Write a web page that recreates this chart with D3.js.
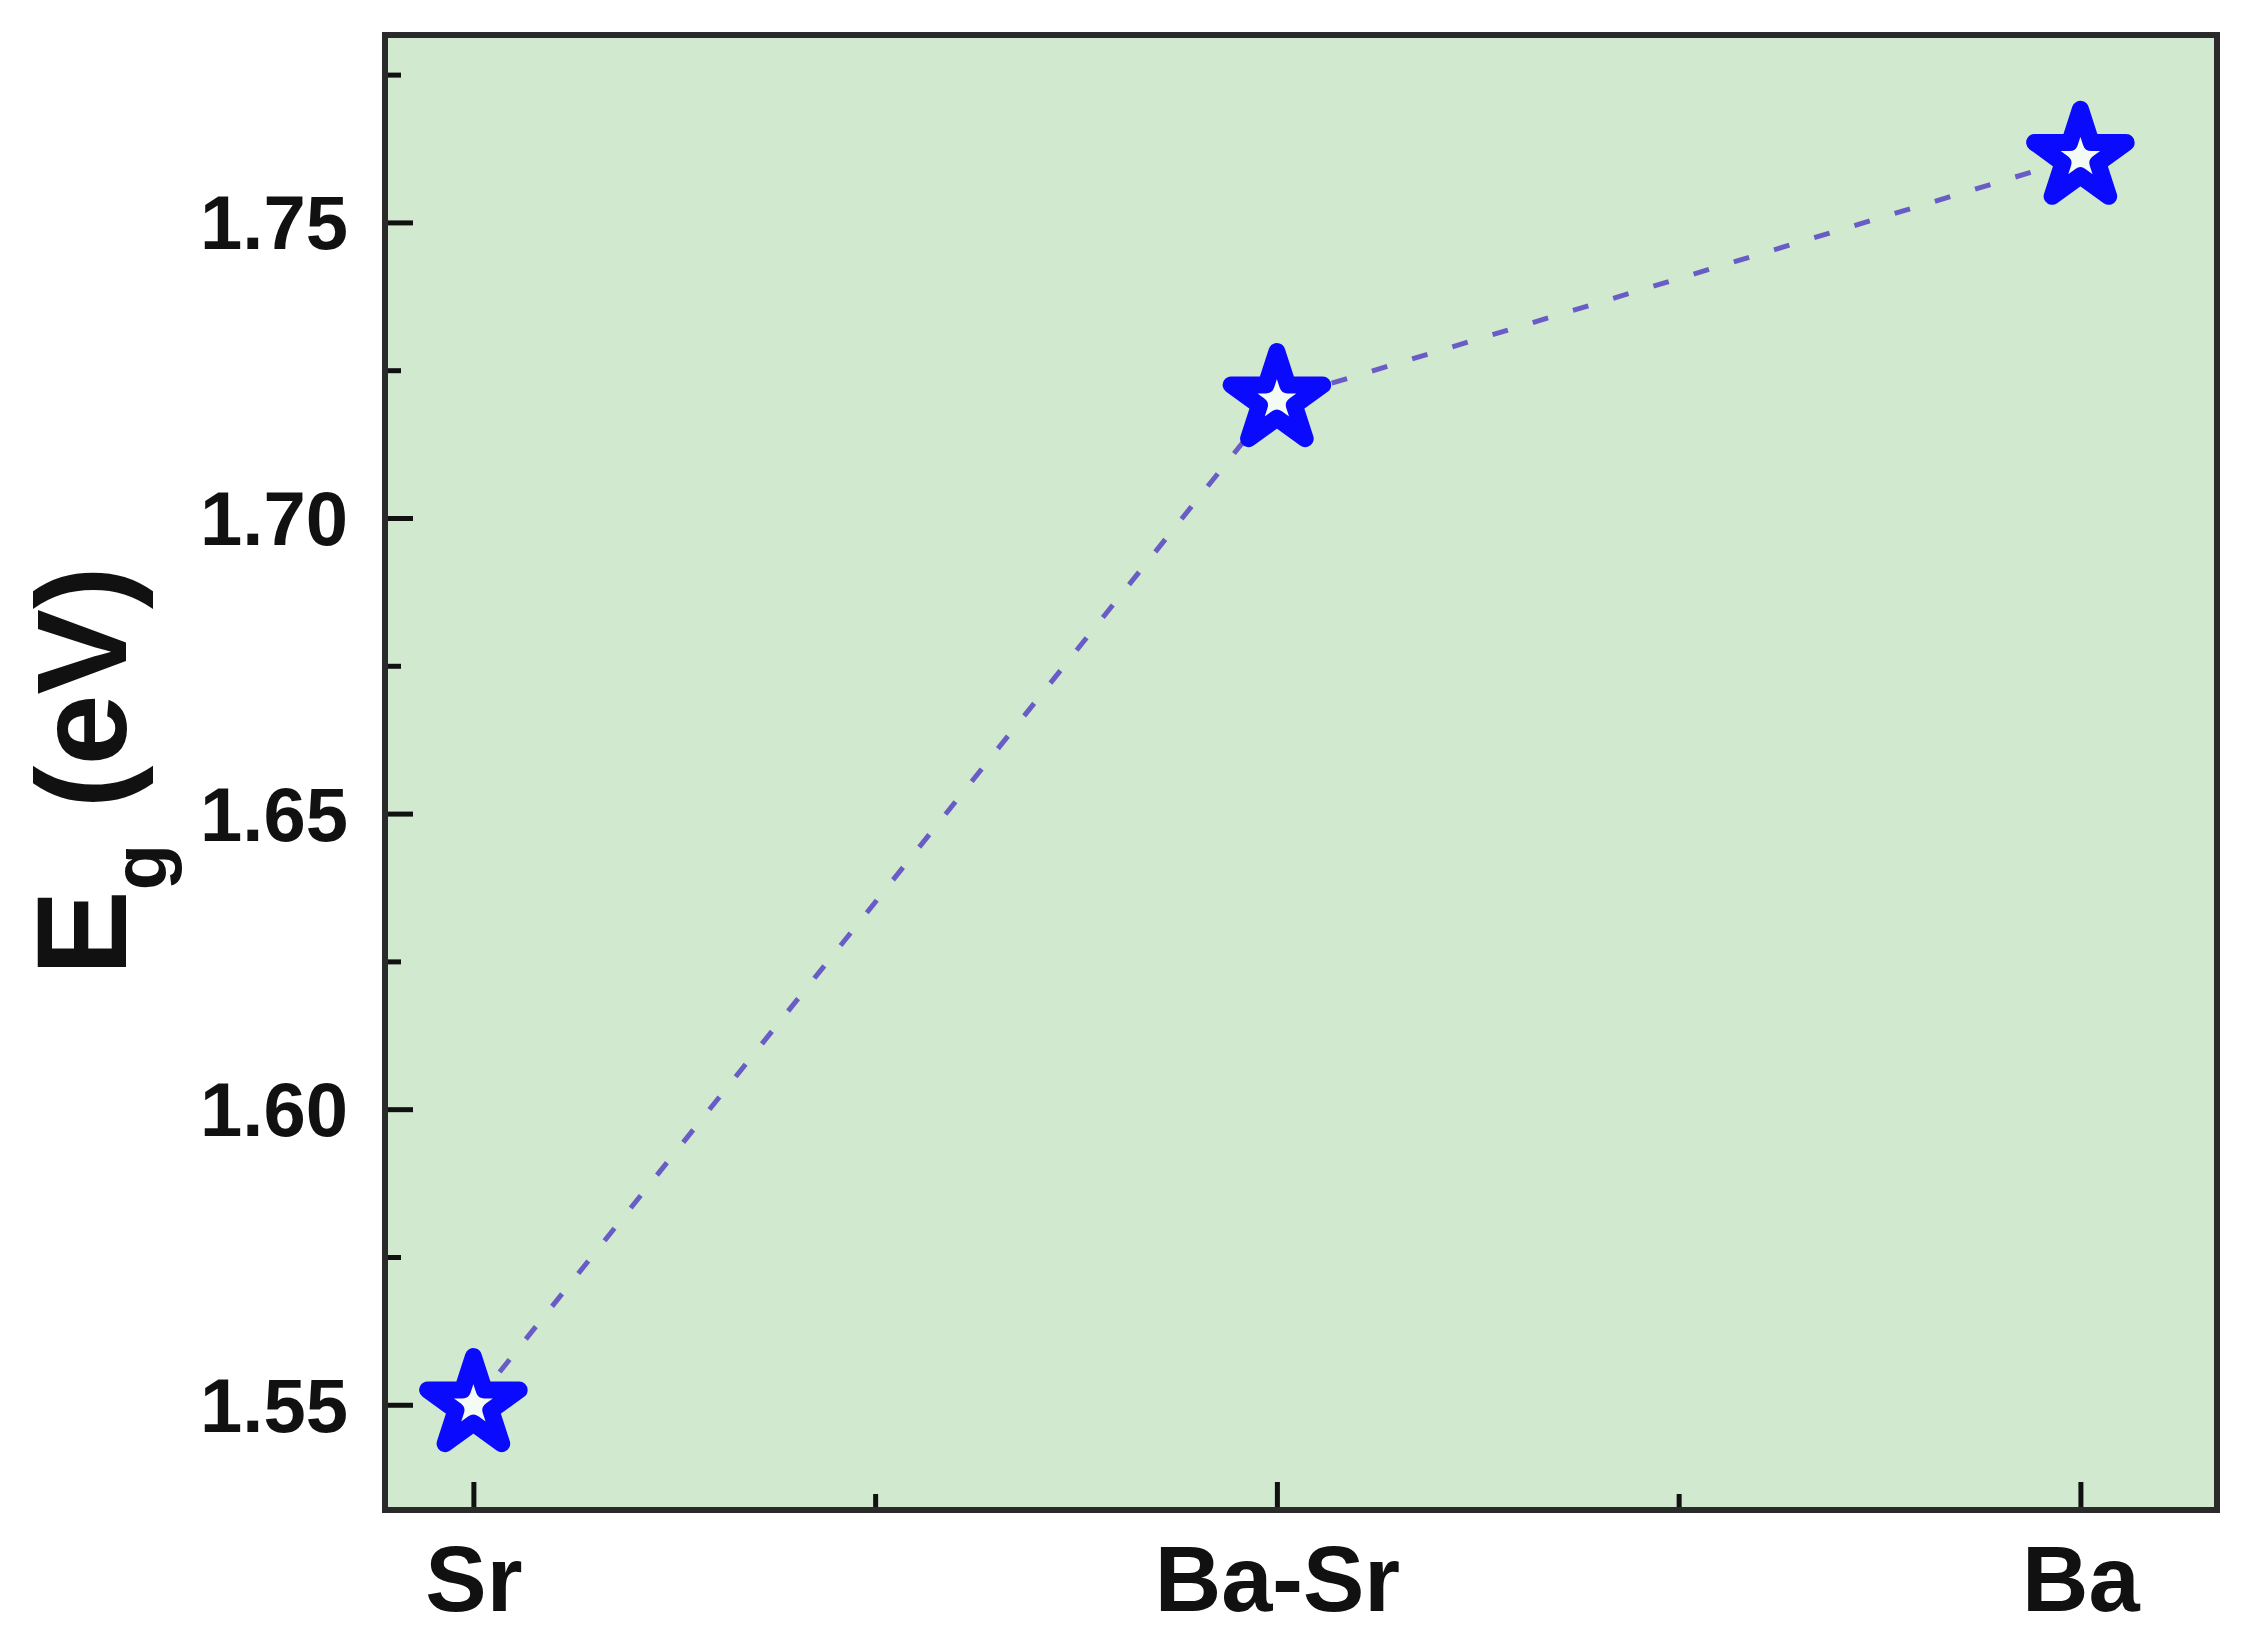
<!doctype html>
<html>
<head>
  <meta charset="utf-8">
  <title>Eg vs composition</title>
  <style>
    body { margin: 0; background: #fff; }
    svg text { font-family: Arial, "Liberation Sans", sans-serif; font-weight: bold; fill: #111; }
  </style>
</head>
<body>
  <div id="chart"></div>
  <script src="https://d3js.org/d3.v7.min.js"></script>
  <script>
    // data
    const categories = ['Sr', 'Ba-Sr', 'Ba'];
    const eg = [1.550, 1.720, 1.761];
    const yTicks = [1.55, 1.60, 1.65, 1.70, 1.75];
    const yMinor = [1.575, 1.625, 1.675, 1.725, 1.775];
    const xMinor = [0.5, 1.5];

    const W = 2250, H = 1644;
    const plotL = 385, plotR = 2217, plotT = 35, plotB = 1510;

    const svg = d3.select('#chart').append('svg')
      .attr('width', W).attr('height', H);

    const x = d3.scaleLinear().domain([-0.11, 2.17]).range([plotL, plotR]);
    const y = d3.scaleLinear().domain([1.5322, 1.7817]).range([plotB, plotT]);

    // plot background
    svg.append('rect')
      .attr('x', plotL).attr('y', plotT)
      .attr('width', plotR - plotL).attr('height', plotB - plotT)
      .attr('fill', '#d0e9cf');

    // dashed connecting line
    const pts = eg.map((v, i) => [i, v]);
    svg.append('path')
      .datum(pts)
      .attr('d', d3.line().x(d => x(d[0])).y(d => y(d[1])))
      .attr('fill', 'none')
      .attr('stroke', '#6a5cc6')
      .attr('stroke-width', 5)
      .attr('stroke-dasharray', '16,26');

    // star markers (open star, thick outline)
    svg.append('g').selectAll('path')
      .data(pts)
      .join('path')
      .attr('transform', d => `translate(${x(d[0])},${y(d[1])})`)
      .attr('d', d3.symbol(d3.symbolStar, 2600))
      .attr('fill', '#f4fbf4')
      .attr('stroke', '#0a0aff')
      .attr('stroke-width', 17)
      .attr('stroke-linejoin', 'round');

    // y axis (ticks inside)
    const yAxis = svg.append('g')
      .attr('transform', `translate(${plotL},0)`)
      .call(d3.axisLeft(y).tickValues(yTicks).tickFormat(d3.format('.2f'))
        .tickSize(-28).tickPadding(37));
    yAxis.select('.domain').remove();
    yAxis.selectAll('line').attr('stroke', '#111').attr('stroke-width', 5);
    yAxis.selectAll('text')
      .attr('font-size', 76).attr('dy', null).attr('dominant-baseline', 'central')
      .attr('fill', '#1a1a1a');

    const yAxisMinor = svg.append('g')
      .attr('transform', `translate(${plotL},0)`)
      .call(d3.axisLeft(y).tickValues(yMinor).tickFormat('').tickSize(-16));
    yAxisMinor.select('.domain').remove();
    yAxisMinor.selectAll('line').attr('stroke', '#111').attr('stroke-width', 5);

    // x axis (ticks inside)
    const xAxis = svg.append('g')
      .attr('transform', `translate(0,${plotB})`)
      .call(d3.axisBottom(x).tickValues([0, 1, 2]).tickFormat(i => categories[i])
        .tickSize(-28).tickPadding(35));
    xAxis.select('.domain').remove();
    xAxis.selectAll('line').attr('stroke', '#111').attr('stroke-width', 5);
    xAxis.selectAll('text')
      .attr('font-size', 92).attr('dy', null).attr('dominant-baseline', 'hanging')
      .attr('fill', '#111');

    const xAxisMinor = svg.append('g')
      .attr('transform', `translate(0,${plotB})`)
      .call(d3.axisBottom(x).tickValues(xMinor).tickFormat('').tickSize(-16));
    xAxisMinor.select('.domain').remove();
    xAxisMinor.selectAll('line').attr('stroke', '#111').attr('stroke-width', 5);

    // frame
    svg.append('rect')
      .attr('x', plotL).attr('y', plotT)
      .attr('width', plotR - plotL).attr('height', plotB - plotT)
      .attr('fill', 'none')
      .attr('stroke', '#2a2a2a')
      .attr('stroke-width', 6);

    // y title: E_g (eV)
    const title = svg.append('text')
      .attr('transform', `translate(126,771) rotate(-90)`)
      .attr('text-anchor', 'middle')
      .attr('font-size', 128);
    title.append('tspan').text('E');
    title.append('tspan').attr('font-size', 76).attr('dy', 40).text('g');
    title.append('tspan').attr('dy', -40).text(' (eV)');
  </script>
</body>
</html>
